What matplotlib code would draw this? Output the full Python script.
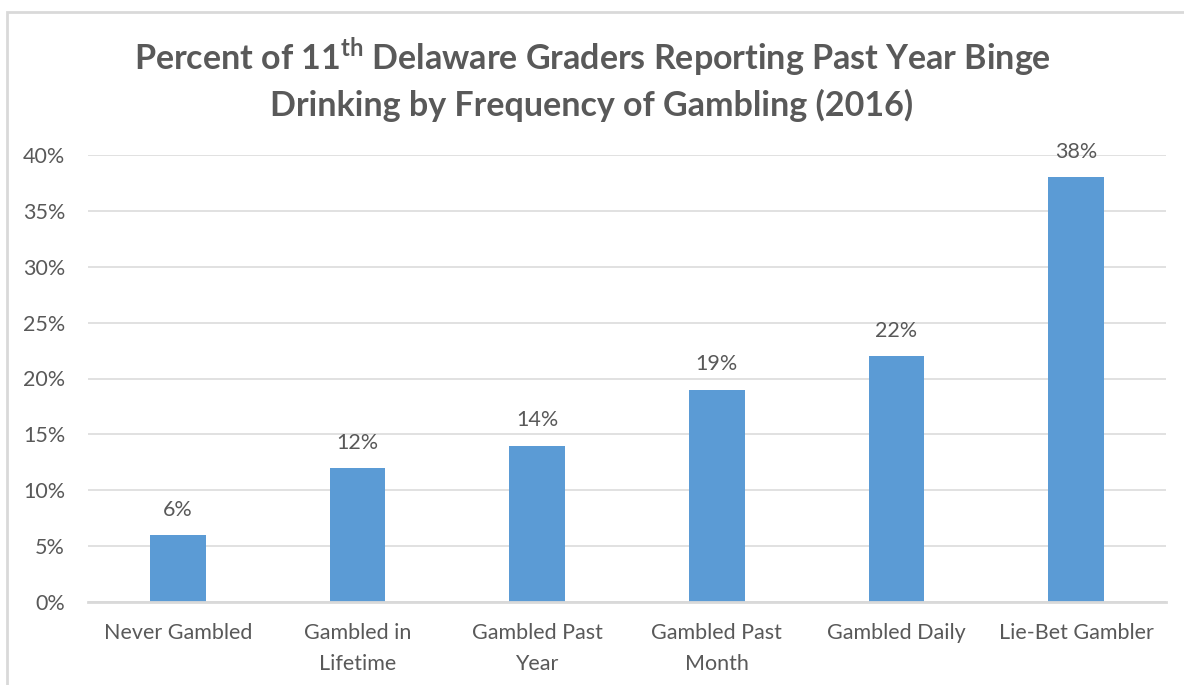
import matplotlib
matplotlib.use("Agg")
import matplotlib.pyplot as plt
from matplotlib.patches import Rectangle

# data
categories = ["Never Gambled", "Gambled in\nLifetime", "Gambled Past\nYear",
              "Gambled Past\nMonth", "Gambled Daily", "Lie-Bet Gambler"]
values = [6, 12, 14, 19, 22, 38]
yticks = [0, 5, 10, 15, 20, 25, 30, 35, 40]

bar_color = "#5B9BD5"
text_color = "#595959"
grid_color = "#D9D9D9"

plt.rcParams["font.family"] = ["Lato", "DejaVu Sans"]
plt.rcParams["mathtext.fontset"] = "custom"
plt.rcParams["mathtext.rm"] = "Lato"
plt.rcParams["mathtext.bf"] = "Lato:bold"


def main():
    fig = plt.figure(figsize=(11.84, 6.85), dpi=100)
    ax = fig.add_axes([88 / 1184, 83 / 685, 1078 / 1184, 447 / 685])

    x = list(range(len(categories)))
    ax.bar(x, values, width=0.31, color=bar_color, zorder=3)

    # value labels above bars
    for xi, v in zip(x, values):
        ax.annotate(f"{v}%", (xi, v), xytext=(0, 11), textcoords="offset points",
                    ha="center", va="bottom", fontsize=15.5, color=text_color)

    ax.set_xlim(-0.5, len(categories) - 0.5)
    ax.set_ylim(0, 40)
    ax.set_yticks(yticks)
    ax.set_yticklabels([f"{t}%" for t in yticks])
    ax.set_xticks(x)
    ax.set_xticklabels(categories, linespacing=1.68)
    ax.tick_params(axis="both", length=0, labelsize=15.5, labelcolor=text_color)
    ax.tick_params(axis="y", pad=16.5)
    ax.tick_params(axis="x", pad=15)

    ax.grid(axis="y", color=grid_color, linewidth=1.1, zorder=0)
    for s in ["top", "right", "left"]:
        ax.spines[s].set_visible(False)
    ax.spines["bottom"].set_color(grid_color)
    ax.spines["bottom"].set_linewidth(2)
    ax.spines["bottom"].set_zorder(4)

    fig.text(0.5, 1 - 79 / 685,
             "Percent of 11$^{\\mathbf{th}}$ Delaware Graders Reporting Past Year Binge\n"
             "Drinking by Frequency of Gambling (2016)",
             ha="center", va="center", fontsize=24.5, fontweight="bold",
             color=text_color, linespacing=1.38)

    # chart border
    fig.patches.append(Rectangle((7 / 1184, -0.05), 1.1, 1 - 12 / 685 + 0.05,
                                 transform=fig.transFigure, fill=False,
                                 edgecolor=grid_color, linewidth=2))

    fig.savefig("out.png", dpi=100)


if __name__ == "__main__":
    main()
